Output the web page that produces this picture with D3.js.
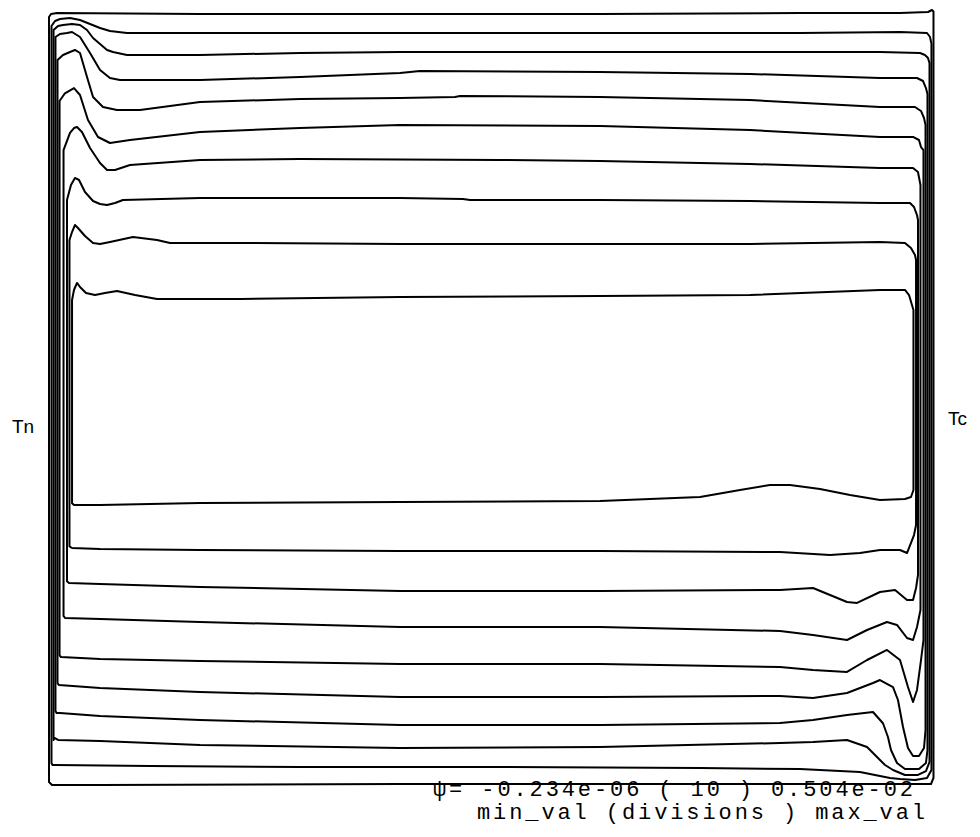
<!DOCTYPE html>
<html>
<head>
<meta charset="utf-8">
<script src="https://cdn.jsdelivr.net/npm/d3@7"></script>
<style>
  html, body { margin: 0; padding: 0; background: #fff; }
  svg { display: block; }
</style>
</head>
<body>
<svg id="chart" width="980" height="837"></svg>
<script>
// Streamlines (psi = const) in a differentially heated square cavity.
// Coordinates: x and y in percent of cavity width / height, origin bottom-left.
// Each contour is a closed loop: up the hot wall, along the top, down the cold wall, back along the bottom.

const psi1 = [[0,0.39],[0,99.48],[0.23,99.87],[0.90,100],[17.04,99.87],[39.62,99.87],[62.19,99.87],[84.76,100],[96.05,100],[99.21,100.13],[99.66,100.39],[99.83,100.2],[99.83,0.91],[99.55,0.13],[96.05,0.13],[73.48,0.13],[39.62,0.13],[5.76,0],[0.34,0]];

const psi2 = [[0.40,2.59],[0.28,2.85],[0.28,98.32],[0.68,98.96],[1.24,99.22],[2.37,99.35],[3.50,99.09],[4.63,98.58],[5.76,98.06],[6.88,97.67],[8.80,97.41],[22.69,97.41],[39.62,97.41],[62.19,97.41],[84.76,97.41],[96.05,97.54],[99.10,97.41],[99.44,96.89],[99.60,96.0],[99.60,1.94],[99.10,0.91],[97.74,0.65],[96.05,0.78],[94.92,0.91],[91.53,1.68],[84.76,2.07],[73.48,2.20],[50.90,2.33],[28.33,2.33],[11.40,2.46],[0.68,2.59]];

const psi3 = [[0.62,6.09],[0.51,5.83],[0.51,97.80],[1.02,98.32],[1.58,98.45],[2.60,98.58],[3.50,98.45],[4.29,97.80],[4.97,96.76],[5.76,95.98],[6.55,95.21],[7.22,94.95],[8.80,94.56],[17.04,94.56],[28.33,94.82],[39.62,94.95],[62.19,94.95],[84.76,94.95],[93.79,94.95],[98.31,94.82],[98.87,94.56],[99.21,94.17],[99.38,93.5],[99.38,2.98],[98.98,1.81],[98.08,1.30],[96.61,1.30],[95.26,1.94],[94.36,2.59],[93.79,3.24],[92.33,4.92],[90.07,5.83],[86.23,5.57],[82.51,5.44],[62.19,4.92],[39.62,4.79],[17.04,5.18],[5.76,5.70],[1.02,5.83]];

const psi4 = [[0.85,9.33],[0.73,9.6],[0.73,96.89],[1.24,97.28],[2.03,97.41],[2.60,97.54],[3.50,96.89],[4.63,94.82],[5.76,92.62],[6.88,91.58],[8.01,91.32],[17.04,91.32],[28.33,91.71],[39.62,92.23],[41.87,92.49],[62.19,92.36],[79.12,92.10],[93.79,91.58],[97.97,91.58],[98.65,91.19],[98.98,90.28],[99.15,89.5],[99.15,4.53],[98.98,2.85],[98.19,2.07],[96.61,2.07],[95.71,2.85],[95.03,4.53],[94.69,6.22],[94.13,8.0],[93.00,9.46],[90.07,9.07],[86.23,8.42],[82.51,8.03],[62.19,7.77],[39.62,7.77],[17.04,8.42],[5.76,8.94],[1.24,9.33]];

const psi5 = [[1.13,12.95],[0.96,13.2],[0.96,93.91],[1.58,94.56],[2.37,94.95],[2.93,95.21],[3.50,94.82],[4.29,91.71],[4.97,89.12],[6.09,87.82],[7.67,87.44],[10.27,87.44],[17.04,88.47],[28.33,88.86],[39.62,88.99],[45.82,89.12],[46.39,89.25],[62.19,89.12],[79.12,88.73],[93.79,87.82],[97.74,87.82],[98.42,87.31],[98.76,86.40],[98.93,85.5],[98.93,7.12],[98.76,4.79],[98.19,3.76],[97.52,3.76],[96.95,4.79],[96.39,7.51],[95.82,11.01],[95.26,12.69],[93.79,13.60],[93.00,13.21],[90.07,11.92],[86.23,11.27],[82.51,11.53],[62.19,11.40],[39.62,11.40],[17.04,12.05],[5.76,12.56]];

const psi6 = [[1.35,16.58],[1.19,16.8],[1.19,88.6],[1.80,89.6],[2.82,90.28],[3.50,89.38],[4.40,86.14],[5.53,83.94],[6.88,83.16],[9.14,83.55],[17.04,84.59],[28.33,85.10],[39.62,85.49],[62.19,85.36],[79.12,84.84],[93.79,83.94],[97.52,83.94],[98.19,83.55],[98.42,82.64],[98.70,82.25],[98.70,18.78],[98.42,16.19],[97.97,12.31],[97.52,10.75],[96.95,12.69],[96.05,16.19],[94.58,17.49],[92.33,16.19],[90.07,14.64],[86.23,14.90],[82.51,15.28],[62.19,15.67],[39.62,15.67],[17.04,16.06],[5.76,16.32]];

const psi7 = [[1.81,21.63],[1.64,21.9],[1.64,82.25],[2.37,84.46],[2.82,85.10],[3.16,85.23],[3.72,84.59],[4.63,82.51],[5.76,80.57],[6.55,79.66],[7.45,79.66],[9.14,80.31],[17.04,80.96],[28.33,81.09],[50.90,80.96],[62.19,80.83],[79.12,80.44],[93.79,79.92],[97.52,79.92],[98.08,79.40],[98.25,78.37],[98.36,77.72],[98.36,22.67],[97.97,20.47],[97.52,18.78],[96.84,19.04],[95.71,20.73],[94.58,21.11],[92.33,20.08],[90.07,18.78],[86.23,19.43],[82.51,19.95],[62.19,20.47],[39.62,20.47],[17.04,21.11],[5.76,21.50]];

const psi8 = [[2.26,26.17],[2.03,26.4],[2.03,75.78],[2.48,77.72],[2.93,78.63],[3.39,78.37],[4.06,76.81],[4.97,75.65],[5.76,75.26],[6.55,75.13],[7.45,75.39],[8.35,75.78],[17.04,76.04],[39.62,76.04],[46.73,75.91],[47.52,75.78],[62.19,75.78],[79.12,75.65],[93.79,75.39],[97.18,75.39],[97.63,74.87],[97.97,73.83],[98.08,73.19],[98.08,27.20],[97.86,25.52],[97.52,23.96],[96.84,23.96],[95.49,25.26],[93.79,25.00],[91.20,23.58],[90.07,23.70],[86.23,25.52],[82.51,25.26],[62.19,25.13],[39.62,25.13],[17.04,25.65],[5.76,26.04]];

const psi9 = [[2.60,30.70],[2.31,30.9],[2.31,70.60],[2.60,71.63],[2.93,72.54],[3.27,72.15],[4.06,71.11],[4.97,70.21],[5.76,70.08],[6.88,70.34],[9.48,70.98],[12.19,70.60],[13.66,70.21],[21.56,70.21],[39.62,70.08],[62.19,70.08],[79.12,70.08],[93.79,70.34],[96.61,70.21],[97.29,69.56],[97.74,68.65],[97.86,68.01],[97.86,33.68],[97.63,32.38],[97.29,31.35],[96.84,30.05],[96.05,30.44],[93.79,30.44],[91.53,30.05],[88.15,29.79],[82.51,30.18],[62.19,30.31],[39.62,30.31],[17.04,30.44],[5.76,30.57]];

const psi10 = [[2.82,36.27],[2.60,36.5],[2.60,62.82],[2.82,64.12],[3.16,65.03],[3.50,64.51],[4.18,63.73],[5.19,63.47],[6.32,63.73],[7.67,63.99],[9.71,63.47],[12.19,62.95],[21.56,62.95],[39.62,63.21],[62.19,63.34],[79.12,63.47],[93.79,64.12],[96.61,64.12],[97.07,63.47],[97.40,62.18],[97.57,61.53],[97.57,38.21],[97.29,37.31],[96.61,37.05],[93.79,36.92],[90.41,37.56],[87.02,38.34],[83.63,38.86],[81.38,38.86],[77.99,38.21],[73.48,37.31],[62.19,36.79],[39.62,36.66],[17.04,36.53],[5.76,36.27]];

const contours = [psi1, psi2, psi3, psi4, psi5, psi6, psi7, psi8, psi9, psi10];

// Wall temperature labels and contour-level legend
const wallLabels = ["Tn", "Tc"];
const psiMin = "-0.234e-06";
const psiMax = "0.504e-02";
const divisions = 10;

const svg = d3.select("#chart");
svg.append("rect").attr("width", 980).attr("height", 837).attr("fill", "#fff");

const x = d3.scaleLinear().domain([0, 100]).range([49, 935]);
const y = d3.scaleLinear().domain([0, 100]).range([785, 13]);

const loop = d3.line()
  .x(d => x(d[0]))
  .y(d => y(d[1]))
  .curve(d3.curveLinearClosed);

svg.append("g")
  .attr("class", "streamlines")
  .selectAll("path")
  .data(contours)
  .join("path")
  .attr("d", loop)
  .attr("fill", "none")
  .attr("stroke", "#000")
  .attr("stroke-width", 2)
  .attr("stroke-linejoin", "round");

// Hot (left) and cold (right) wall labels
svg.append("text")
  .attr("x", 12).attr("y", 433)
  .attr("font-family", "Liberation Sans, Arial, sans-serif")
  .attr("font-size", 19)
  .attr("fill", "#000")
  .text(wallLabels[0]);

svg.append("text")
  .attr("x", 948).attr("y", 425)
  .attr("font-family", "Liberation Sans, Arial, sans-serif")
  .attr("font-size", 19)
  .attr("fill", "#000")
  .text(wallLabels[1]);

// Legend: psi range and number of divisions
const legend = [
  { text: `ψ= ${psiMin} ( ${divisions} ) ${psiMax}`, x: 433, y: 796, len: 480 },
  { text: "min_val (divisions ) max_val", x: 477, y: 819, len: 448 }
];

svg.append("g")
  .selectAll("text")
  .data(legend)
  .join("text")
  .attr("x", d => d.x)
  .attr("y", d => d.y)
  .attr("textLength", d => d.len)
  .attr("lengthAdjust", "spacing")
  .attr("font-family", "Courier New, Liberation Mono, monospace")
  .attr("font-size", 22)
  .attr("fill", "#000")
  .attr("xml:space", "preserve")
  .style("white-space", "pre")
  .text(d => d.text);
</script>
</body>
</html>
